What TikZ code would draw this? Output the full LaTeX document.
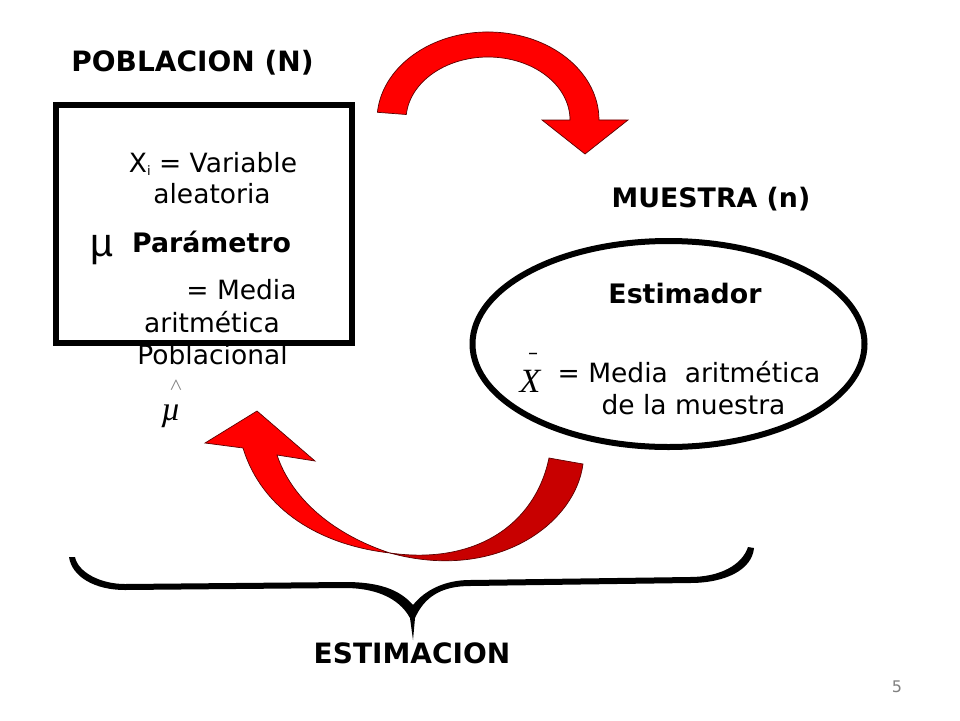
\documentclass[tikz,border=0pt]{standalone}
\usepackage{fontspec}
\setmainfont{DejaVu Sans}
\newfontfamily\arialfont{Liberation Sans}
\newfontfamily\timesfont{Liberation Serif}
\usetikzlibrary{shapes,positioning}
\definecolor{arrowred}{RGB}{255,0,0}
\definecolor{arrowdark}{RGB}{200,0,0}
\definecolor{edgedark}{RGB}{90,0,0}
\begin{document}
\begin{tikzpicture}[x=1pt,y=1pt]
            \tikzstyle{every node}+=[inner sep=0pt]
            \tikzstyle{txt}=[anchor=base,font=\fontsize{26.5}{26.5}\selectfont]
            \tikzstyle{txtb}=[anchor=base,font=\fontsize{26.8}{26.8}\selectfont\bfseries]
            \tikzstyle{txtcaps}=[anchor=base,font=\fontsize{28}{28}\selectfont\bfseries]
            \tikzstyle{symb}=[anchor=base,font=\fontsize{34}{34}\selectfont\timesfont\itshape]
            \tikzstyle{thick frame}=[draw=black,line width=6pt]
            \tikzstyle{curved arrow}=[draw=edgedark,line width=0.7pt,line join=miter]
            \useasboundingbox (0,0) rectangle (960,-720);
            % titles
            \node [txtcaps] (poblacion) at (192.5,-71.5) {POBLACION (N)};
            \node [txtb] (muestra) at (711,-207) {MUESTRA (n)};
            \node [txtcaps] (estimacion) at (412,-663) {ESTIMACION};
            % text of the box
            \node [txt] (variable) at (213,-172) {X{\fontsize{13}{13}\selectfont\raisebox{-3pt}{i}} = Variable};
            \node [txt] (aleatoria) at (212,-203) {aleatoria};
            \node [txtb] (parametro) at (211.5,-252) {Parámetro};
            \node [anchor=base,font=\fontsize{40}{40}\selectfont\arialfont] (mu) at (102,-256) {µ};
            \node [txt] (media) at (241.5,-299) {= Media};
            \node [txt] (aritmetica) at (212,-332) {aritmética};
            \node [txt] (poblacional) at (212.5,-364) {Poblacional};
            % text of the ellipse
            \node [txtb] (estimador) at (685,-303) {Estimador};
            \node [txt] (mediaX) at (689,-382) {= Media\ \ aritmética};
            \node [txt] (delamuestra) at (693.5,-414) {de la muestra};
            % symbols
            \node [symb] (xsym) at (530,-392) {X};
            \node [anchor=center,font=\fontsize{20}{20}\selectfont] (xbar) at (533,-356) {--};
            \node [symb] (musym) at (171,-420) {µ};
            \node [anchor=center,text=gray,font=\fontsize{22}{22}\selectfont\timesfont] (hatsym) at (176,-386) {\char"02C4};
            \node [anchor=base,text=gray,font=\fontsize{16}{16}\selectfont] (pagenum) at (897,-692) {5};
            % frames
            \node [thick frame,rectangle,minimum width=296pt,minimum height=238pt] (boxpob) at (204,-224) {};
            \node [thick frame,ellipse,minimum width=392pt,minimum height=206pt] (ellmues) at (668.5,-344) {};
            % upper arrow
            \draw [curved arrow,fill=arrowred] (377.4,-112.3) arc [start angle=175,end angle=0,x radius=111,y radius=88]
                -- (628,-120) -- (585,-154) -- (542,-120) -- (570,-120)
                arc [start angle=0,end angle=175,x radius=82,y radius=63] -- cycle;
            % lower arrow, dark half
            \draw [curved arrow,fill=arrowdark] (549,-458) .. controls (535,-525) and (475,-565) .. (390,-553)
                .. controls (495,-582) and (575,-525) .. (583,-464) -- cycle;
            % lower arrow, bright half
            \draw [curved arrow,fill=arrowred] (390,-553) .. controls (320,-545) and (262,-510) .. (243,-448)
                -- (205,-443) -- (257,-411) -- (315,-461) -- (277,-455)
                .. controls (292,-500) and (335,-535) .. (390,-553) -- cycle;
            % brace
            \fill [black] (69,-557) .. controls (72,-577) and (95,-590) .. (125,-590) -- (345,-588)
                .. controls (372,-588) and (398,-596) .. (410,-618) -- (413,-640) -- (415,-618)
                .. controls (424,-598) and (440,-586) .. (470,-586) -- (690,-583)
                .. controls (725,-583) and (752,-570) .. (754,-548) -- (748,-547)
                .. controls (742,-565) and (720,-577) .. (690,-577) -- (470,-580)
                .. controls (445,-580) and (425,-590) .. (413,-605)
                .. controls (400,-590) and (380,-582) .. (345,-582) -- (125,-584)
                .. controls (100,-584) and (78,-572) .. (75,-557) -- cycle;
\end{tikzpicture}
\end{document}
